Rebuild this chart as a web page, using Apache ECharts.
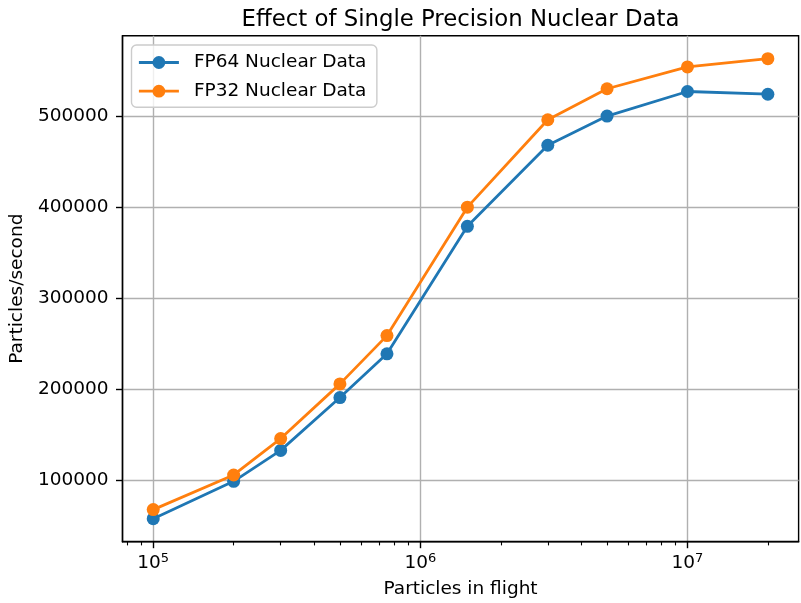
<!DOCTYPE html>
<html><head><meta charset="utf-8">
<script src="https://cdn.jsdelivr.net/npm/echarts@6/dist/echarts.min.js"></script>
<style>html,body{margin:0;padding:0;background:#fff}#c{width:801px;height:603px}</style>
</head><body><div id="c"></div>
<script>
const particles = [1e5, 2e5, 3e5, 5e5, 7.5e5, 1.5e6, 3e6, 5e6, 1e7, 2e7];
const fp64 = [58000, 99000, 133000, 191000, 239000, 379000, 468000, 500000, 527000, 524000];
const fp32 = [68000, 106000, 146000, 206000, 259000, 400000, 496000, 530000, 554000, 563000];
const seriesNames = ['FP64 Nuclear Data', 'FP32 Nuclear Data'];
const xMajorTicks = [1e5, 1e6, 1e7];
const xMinorTicks = [8e4, 9e4, 2e5, 3e5, 4e5, 5e5, 6e5, 7e5, 8e5, 9e5, 2e6, 3e6, 4e6, 5e6, 6e6, 7e6, 8e6, 9e6, 2e7];
const yTicks = [100000, 200000, 300000, 400000, 500000];

const lx0 = Math.log10(Math.min(...particles)), lx1 = Math.log10(Math.max(...particles));
const xMin = Math.pow(10, lx0 - 0.05 * (lx1 - lx0)), xMax = Math.pow(10, lx1 + 0.05 * (lx1 - lx0));
const allY = fp64.concat(fp32);
const y0 = Math.min(...allY), y1 = Math.max(...allY);
const yMin = y0 - 0.05 * (y1 - y0), yMax = y1 + 0.05 * (y1 - y0);

const FONT = 'DejaVu Sans';
const FS = 18.5;
const chart = echarts.init(document.getElementById('c'), null, {renderer: 'canvas'});
chart.setOption({
  animation: false,
  backgroundColor: '#fff',
  textStyle: {fontFamily: FONT},
  title: {
    text: 'Effect of Single Precision Nuclear Data',
    left: 455.5, top: 4, textAlign: 'center',
    textStyle: {fontFamily: FONT, fontSize: 22.8, fontWeight: 'normal', color: '#000'}
  },
  grid: {left: 122.5, right: 2.4, top: 35.7, bottom: 61.3, show: true, borderColor: '#000', borderWidth: 1.4, containLabel: false, outerBoundsMode: 'none'},
  legend: {
    left: 131.5, top: 45, orient: 'vertical',
    data: seriesNames,
    itemWidth: 40, itemHeight: 16, itemGap: 9.7,
    padding: [8, 10.5, 6.5, 6],
    lineStyle: {width: 2.8},
    backgroundColor: 'rgba(255,255,255,0.8)', borderColor: '#cccccc', borderWidth: 1.4, borderRadius: 5,
    textStyle: {fontFamily: FONT, fontSize: FS, color: '#000', padding: [0, 0, 0, 10]}
  },
  xAxis: [{
    type: 'log', logBase: 10, min: xMin, max: xMax,
    name: 'Particles in flight', nameLocation: 'middle', nameGap: 38,
    nameTextStyle: {fontFamily: FONT, fontSize: FS, color: '#000'},
    axisLine: {show: true, lineStyle: {color: '#000', width: 1.4}},
    axisTick: {show: true, length: 6.5, lineStyle: {color: '#000', width: 1.4}, customValues: xMajorTicks},
    axisLabel: {
      customValues: xMajorTicks, margin: 10, color: '#000',
      formatter: function (v) { return '{b|10}{s|' + Math.round(Math.log10(v)) + '}'; },
      rich: {b: {fontFamily: FONT, fontSize: FS, color: '#000'}, s: {fontFamily: FONT, fontSize: 13, color: '#000', padding: [0, 0, 10, 0]}}
    },
    splitLine: {show: true, lineStyle: {color: '#b0b0b0', width: 1.4}}
  }, {
    type: 'log', logBase: 10, min: xMin, max: xMax, position: 'bottom', gridIndex: 0,
    axisLine: {show: false},
    axisTick: {show: true, length: 3.7, lineStyle: {color: '#000', width: 1.1}, customValues: xMinorTicks},
    axisLabel: {show: false},
    splitLine: {show: false}
  }],
  yAxis: {
    type: 'value', min: yMin, max: yMax,
    name: 'Particles/second', nameLocation: 'middle', nameGap: 88, nameRotate: 90,
    nameTextStyle: {fontFamily: FONT, fontSize: FS, color: '#000'},
    axisLine: {show: true, lineStyle: {color: '#000', width: 1.4}},
    axisTick: {show: true, length: 6.5, lineStyle: {color: '#000', width: 1.4}, customValues: yTicks},
    axisLabel: {customValues: yTicks, margin: 14, fontFamily: FONT, fontSize: FS, color: '#000', formatter: function (v) { return String(v); }},
    splitLine: {show: true, lineStyle: {color: '#b0b0b0', width: 1.4}}
  },
  series: [
    {name: seriesNames[0], type: 'line', xAxisIndex: 0, data: particles.map((x, i) => [x, fp64[i]]),
     color: '#1f77b4', lineStyle: {width: 2.8, color: '#1f77b4'}, symbol: 'circle', symbolSize: 13,
     itemStyle: {color: '#1f77b4'}, z: 3},
    {name: seriesNames[1], type: 'line', xAxisIndex: 0, data: particles.map((x, i) => [x, fp32[i]]),
     color: '#ff7f0e', lineStyle: {width: 2.8, color: '#ff7f0e'}, symbol: 'circle', symbolSize: 13,
     itemStyle: {color: '#ff7f0e'}, z: 4}
  ]
});
</script></body></html>
